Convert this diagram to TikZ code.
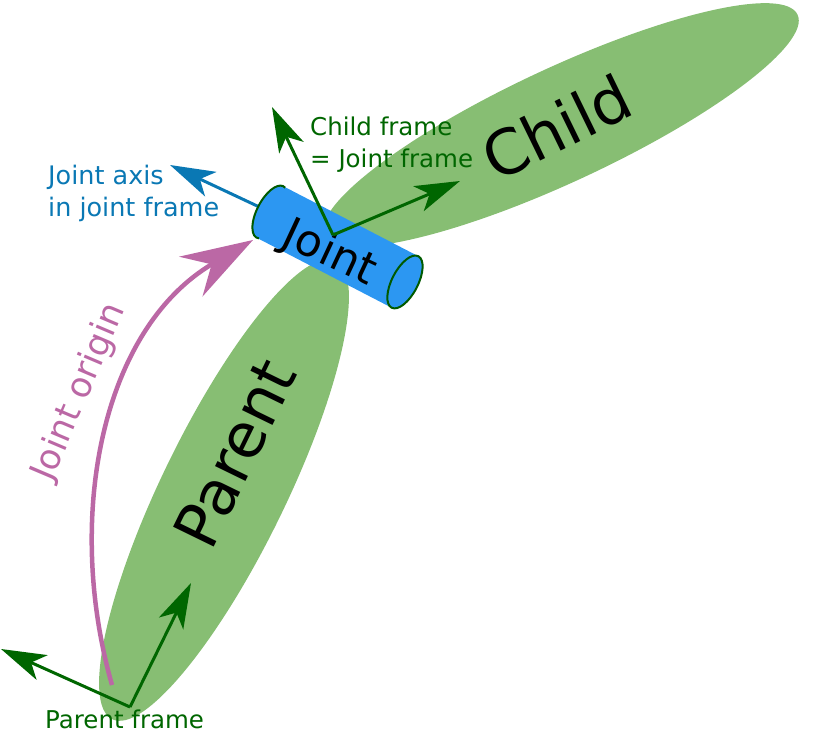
\documentclass[tikz,border=0pt]{standalone}
\usepackage{fontspec}
\setmainfont{DejaVu Sans}
\usetikzlibrary{arrows.meta}
\definecolor{lgreen}{HTML}{87BE73}
\definecolor{dkgreen}{HTML}{006600}
\definecolor{jblue}{HTML}{0A78B4}
\definecolor{cylblue}{HTML}{2C97F2}
\definecolor{cylline}{HTML}{005A00}
\definecolor{mag}{HTML}{BB68A5}
\tikzset{
  link/.style={fill=lgreen},
  garrow/.style={draw=dkgreen, line width=3pt, -{Stealth[length=45pt,width=27pt,inset=12pt]}},
  barrow/.style={draw=jblue, line width=3pt, -{Stealth[length=45pt,width=27pt,inset=12pt]}},
  marrow/.style={draw=mag, line width=4.5pt, -{Stealth[length=72pt,width=46pt,inset=24pt]}},
  bigtext/.style={font=\fontsize{62}{72}\selectfont, text=black, inner sep=0pt},
  gtext/.style={font=\fontsize{24.5}{31.5}\selectfont, text=dkgreen, align=left, inner sep=0pt},
  btext/.style={font=\fontsize{25.5}{31.5}\selectfont, text=jblue, align=left, inner sep=0pt},
}
\begin{document}
\begin{tikzpicture}[x=1pt,y=1pt]
\useasboundingbox (0,0) rectangle (826,-733);
% links
\fill[link, rotate around={64:(224,-490)}] (224,-490) ellipse [x radius=255, y radius=62];
\fill[link, rotate around={25:(561,-125)}] (561,-125) ellipse [x radius=261, y radius=57];
% coordinates
\coordinate (ms) at (112,-685);
\coordinate (me) at (253,-240);
\coordinate (jc) at (270,-212);
\coordinate (ja) at (170,-165);
\coordinate (co) at (333,-235);
\coordinate (cy) at (272,-107);
\coordinate (cx) at (460,-181);
\coordinate (po) at (130,-707);
\coordinate (py) at (191,-583);
\coordinate (px) at (1,-649);
% joint origin arrow
\draw[marrow] (ms) .. controls (65,-520) and (100,-330) .. (me);
% joint axis arrow
\draw[barrow] (jc) -- (ja);
% cylinder
\begin{scope}[shift={(337.5,-247)}, rotate=-27.4]
  \fill[cylblue] (-76,29) -- (76,29) arc[start angle=90,end angle=-90,x radius=13,y radius=29]
     -- (-76,-29) arc[start angle=270,end angle=90,x radius=13,y radius=29] -- cycle;
  \draw[cylline, line width=2pt] (-76,0) ++(80:13 and 29) arc[start angle=80,end angle=280,x radius=13,y radius=29];
  \draw[cylline, line width=2pt, fill=cylblue] (76,0) ellipse [x radius=13, y radius=29];
\end{scope}
% texts
\node[bigtext, rotate=26, anchor=base] (child) at (567,-148) {Child};
\node[bigtext, rotate=64, anchor=base] (parent) at (255,-463) {Parent};
\node[font=\fontsize{44}{50}\selectfont, text=black, inner sep=0pt, rotate=-25, anchor=base] (joint) at (324,-265) {Joint};
\node[font=\fontsize{35}{42}\selectfont, text=mag, inner sep=0pt, rotate=67, anchor=base] (origin) at (88.5,-396) {Joint origin};
\node[gtext, anchor=base west] (cf) at (310,-167) {Child frame\\= Joint frame};
\node[btext, anchor=base west] (jat) at (48,-216) {Joint axis\\in joint frame};
\node[gtext, anchor=base west] (pf) at (45,-728) {Parent frame};
% frames
\draw[garrow] (co) -- (cy);
\draw[garrow] (co) -- (cx);
\draw[garrow] (po) -- (py);
\draw[garrow] (po) -- (px);
\end{tikzpicture}
\end{document}
